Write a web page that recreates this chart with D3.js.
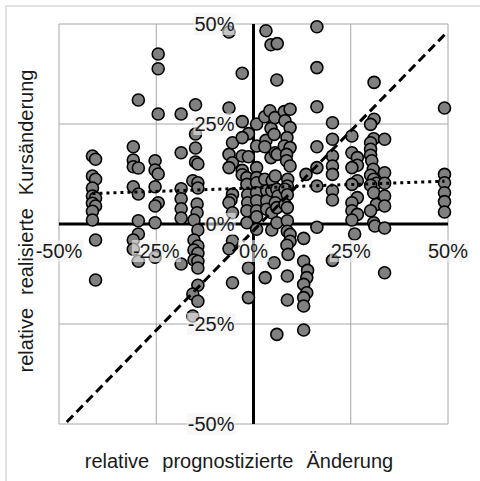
<!DOCTYPE html>
<html>
<head>
<meta charset="utf-8">
<script src="https://cdn.jsdelivr.net/npm/d3@7"></script>
<style>
  html, body { margin: 0; padding: 0; background: #fff; }
  svg { display: block; font-family: "Liberation Sans", Arial, sans-serif; }
</style>
</head>
<body>
<svg id="chart" width="480" height="481"></svg>
<script>
// Predicted relative change (%) per stock, and the change that was realised (%)
const predicted = [
  -41.4,-40.6,-41.4,-40.6,-41.4,-41.4,-40.6,-41.4,-40.6,-41.4,-41.4,-40.6,-40.6,
  -29.6,-30.9,-30.9,-30.9,-29.6,-30.9,-29.6,-29.6,-29.6,-30.9,-30.9,-29.6,
  -24.5,-24.5,-24.5,-25.3,-25.3,-24.5,-25.3,-24.5,-25.3,-25.3,-25.3,
  -18.6,-18.6,-18.6,-18.6,-18.6,-18.6,-18.6,
  -14.9,-14.9,-14.9,-14.9,-14.3,-15.6,-14.3,-14.3,-14.5,-14.5,-15.3,-14.3,-15.3,-14.3,-15.3,-14.3,-15.3,-14.3,-14.3,-14.3,-15.6,-14.3,-15.6,
  -6.3,-6.3,-5.4,-6.3,-5.4,-6.3,-5.4,-5.8,-6.3,-5.4,-5.4,-6.3,-5.4,
  -2.9,-2.9,-1.3,-2.9,-2.9,-1.3,-2.9,-2.9,-1.7,-1.7,-1.5,-1.5,-1.7,-1.7,-1.3,-1.3,
  0.8,0.8,0.8,0.8,0.8,0.8,0.8,0.8,0.8,0.8,
  3.2,2.9,3.2,2.9,2.9,3.4,3.4,3.4,3.0,
  4.5,4.2,4.5,5.3,4.5,5.6,4.8,4.7,4.7,4.7,5.3,
  6.1,6.0,5.5,6.1,5.6,6.0,6.3,5.6,6.0,6.0,6.0,
  7.9,9.4,8.1,9.4,8.6,7.9,9.4,8.5,8.5,9.4,8.8,8.7,8.1,8.7,8.1,8.7,8.7,8.7,9.4,9.4,8.6,8.9,8.7,8.7,
  13.5,12.9,12.9,13.9,13.7,12.9,13.7,12.9,12.9,12.9,
  16.3,16.3,16.3,16.3,16.3,16.3,16.3,
  20.3,20.3,20.3,20.3,20.3,20.3,20.3,20.3,
  25.3,25.3,26.7,26.7,25.3,26.7,25.3,26.7,25.3,25.3,26.7,25.3,26.0,
  31.0,31.0,30.1,30.9,30.1,30.1,30.1,30.4,30.8,30.1,30.9,31.6,30.1,30.9,31.6,30.1,30.9,31.2,
  33.7,33.7,33.7,33.7,33.7,33.7,33.7,
  49.1,49.1,49.1,49.1,49.1,49.1
];
const realized = [
  17.0,16.2,12.0,11.2,9.0,7.0,6.5,5.2,4.5,3.2,1.0,-4.0,-14.0,
  31.0,19.3,16.0,14.3,14.0,9.3,7.5,0.8,-2.5,-4.0,-6.3,-9.3,
  42.5,38.8,27.5,15.8,13.5,12.5,9.3,5.3,4.5,0.3,-8.3,
  27.5,17.8,8.8,6.3,3.8,1.5,-10.0,
  29.8,22.5,19.0,15.5,15.0,10.8,10.3,9.0,5.0,2.8,1.0,-1.5,-4.0,-5.5,-6.5,-7.3,-9.0,-9.3,-11.0,-15.3,-17.5,-19.3,-23.0,
  48.0,29.0,20.3,17.4,15.3,14.1,7.4,6.0,5.3,2.8,-4.2,-6.2,-14.7,
  37.7,25.6,22.6,21.6,17.0,16.8,13.4,12.3,11.6,9.9,7.3,5.3,3.3,0.3,-11.0,-18.4,
  25.0,19.5,14.1,11.6,10.3,7.8,5.8,3.3,1.8,-1.3,
  48.3,26.8,20.9,19.3,11.2,8.3,5.8,3.7,-13.4,
  44.8,28.3,23.9,22.4,16.6,17.8,10.8,8.3,2.8,-1.5,-9.7,
  45.1,36.0,26.6,17.4,12.0,8.7,7.0,5.3,4.1,0.3,-27.6,
  28.1,28.7,25.8,24.1,21.6,19.5,19.1,17.4,15.8,14.5,11.2,9.5,8.7,7.3,4.9,4.1,0.8,-1.8,-2.6,-4.3,-5.3,-7.6,-13.0,-19.0,
  12.4,-3.6,-9.3,-11.6,-13.4,-15.1,-17.2,-18.4,-20.5,-26.5,
  49.3,39.1,29.3,19.3,14.1,9.5,-0.8,
  25.3,21.2,17.0,14.5,12.4,8.3,6.0,-9.1,
  22.0,17.8,16.6,14.7,14.1,10.8,9.9,6.6,5.3,3.3,2.4,1.0,-2.5,
  35.4,26.2,24.9,21.3,20.3,18.7,17.2,15.8,13.7,12.2,11.2,10.2,9.7,7.8,4.9,3.3,0.3,-0.5,
  21.2,12.8,10.2,7.0,4.5,-1.0,-12.2,
  29.0,12.4,10.3,7.8,5.6,3.0
];
// Axis ticks (%) shared by both axes
const axisTicks = [-50, -25, 0, 25, 50];
// Reference line where realised change equals the forecast
const diagonalX = [-48.0, 49.6];
const diagonalY = [-49.5, 47.8];
// Linear trend of realised vs. predicted change (end points, %)
const trendX = [-41.4, 49.1];
const trendY = [7.6, 10.7];

const xTitle = "relative prognostizierte Änderung";
const yTitle = "relative realisierte Kursänderung";

const svg = d3.select("#chart");
const x = d3.scaleLinear().domain([-50, 50]).range([59, 448]);
const y = d3.scaleLinear().domain([-50, 50]).range([424, 24]);
const fmt = d => d + "%";

// chart area frame
svg.append("rect")
  .attr("x", 6).attr("y", 6).attr("width", 520).attr("height", 520)
  .attr("fill", "#fff").attr("stroke", "#d9d9d9").attr("stroke-width", 1.5);

// gridlines
const grid = svg.append("g");
const gridTicks = axisTicks.filter(t => t !== 0);
grid.selectAll("line.v").data(gridTicks).join("line")
  .attr("class", "v")
  .attr("x1", d => x(d)).attr("x2", d => x(d))
  .attr("y1", y(50)).attr("y2", y(-50))
  .attr("stroke", "#a6a6a6").attr("stroke-width", 1);
grid.selectAll("line.h").data(gridTicks).join("line")
  .attr("class", "h")
  .attr("y1", d => y(d)).attr("y2", d => y(d))
  .attr("x1", x(-50)).attr("x2", x(50))
  .attr("stroke", "#a6a6a6").attr("stroke-width", 1);

// zero axes
svg.append("line").attr("x1", x(-50)).attr("x2", x(50)).attr("y1", y(0)).attr("y2", y(0))
  .attr("stroke", "#000").attr("stroke-width", 3);
svg.append("line").attr("x1", x(0)).attr("x2", x(0)).attr("y1", y(50)).attr("y2", y(-50))
  .attr("stroke", "#000").attr("stroke-width", 3);

// points
const pts = predicted.map((p, i) => [p, realized[i]]);
svg.append("g").selectAll("circle").data(pts).join("circle")
  .attr("cx", d => x(d[0])).attr("cy", d => y(d[1])).attr("r", 6)
  .attr("fill", "#808080").attr("stroke", "#000").attr("stroke-width", 1.6);

const line = d3.line().x(d => x(d[0])).y(d => y(d[1]));

// dotted trend line
svg.append("path")
  .attr("d", line(trendX.map((v, i) => [v, trendY[i]])))
  .attr("fill", "none").attr("stroke", "#000").attr("stroke-width", 3)
  .attr("stroke-dasharray", "3,4");

// forecast = outcome line
svg.append("path")
  .attr("d", line(diagonalX.map((v, i) => [v, diagonalY[i]])))
  .attr("fill", "none").attr("stroke", "#000").attr("stroke-width", 3)
  .attr("stroke-dasharray", "9,5");

// tick labels with translucent backing
function label(g, tx, ty, text, anchor) {
  const t = g.append("text").attr("x", tx).attr("y", ty)
    .attr("text-anchor", anchor).attr("dominant-baseline", "central")
    .attr("font-size", 20).attr("fill", "#1a1a1a").text(text);
  const b = t.node().getBBox();
  g.insert("rect", "text")
    .attr("x", b.x - 1).attr("y", b.y).attr("width", b.width + 2).attr("height", b.height)
    .attr("fill", "rgb(242,242,242)").attr("fill-opacity", 0.6);
}
const xLab = svg.append("g");
axisTicks.forEach(t => label(xLab.append("g"), x(t), y(0) + 27, fmt(t), "middle"));
const yLab = svg.append("g");
axisTicks.forEach(t => label(yLab.append("g"), x(0) - 19, y(t), fmt(t), "end"));

// axis titles
svg.append("text").attr("x", 239).attr("y", 468).attr("text-anchor", "middle")
  .attr("font-size", 20).attr("word-spacing", 7.5).attr("fill", "#1a1a1a").text(xTitle);
svg.append("text").attr("transform", "translate(26,221) rotate(-90)")
  .attr("text-anchor", "middle").attr("dominant-baseline", "central")
  .attr("font-size", 20).attr("word-spacing", 7.5).attr("fill", "#1a1a1a").text(yTitle);
</script>
</body>
</html>
